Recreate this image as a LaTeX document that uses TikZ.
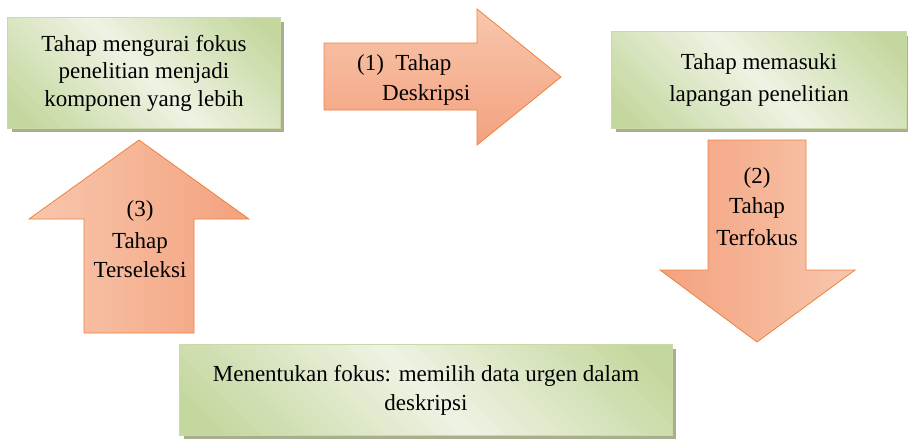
\documentclass[tikz,border=0pt]{standalone}
\usepackage{fontspec}
\setmainfont{Liberation Serif}
\newfontfamily\tmsrm{Liberation Serif}
\definecolor{gdark}{HTML}{C4D79E}
\definecolor{glight}{HTML}{EEF3E3}
\definecolor{gborder}{HTML}{C9DAA6}
\definecolor{shadowc}{HTML}{A8AE8E}
\definecolor{olight}{HTML}{F8C6AC}
\definecolor{odark}{HTML}{F3A27F}
\definecolor{oborder}{HTML}{F0813E}
\begin{document}
\begin{tikzpicture}[x=1pt,y=-1pt,
  boxshape/.style={draw=none, inner sep=0pt},
  boxline/.style={draw=gborder, line width=1pt},
  boxtext/.style={inner sep=0pt, align=center, scale=0.7667, transform shape, font=\tmsrm\fontsize{30}{36}\selectfont},
  blockarrow/.style={draw=oborder, line width=0.8pt, line join=miter},
  lbl/.style={inner sep=0pt, anchor=base, scale=0.7667, transform shape, font=\tmsrm\fontsize{30}{36}\selectfont}]
\useasboundingbox (0,0) rectangle (908,439);
% box frames (named)
\node[boxshape, minimum width=272pt, minimum height=110pt] (b1) at (144,73) {};
\node[boxshape, minimum width=294pt, minimum height=96pt] (b2) at (759,80) {};
\node[boxshape, minimum width=492pt, minimum height=90pt] (b3) at (426,390) {};
% shadows
\foreach \b in {b1,b2,b3}{
  \fill[shadowc] ([shift={(4pt,-4pt)}]\b.south west) rectangle ([shift={(4pt,-4pt)}]\b.north east);
}
% diagonal gradient fills of the boxes
\foreach \b/\L in {b1/135,b2/138,b3/206}{
  \begin{scope}
    \clip (\b.south west) rectangle (\b.north east);
    \begin{scope}[shift={(\b.center)}, rotate=45]
      \foreach \i in {0,...,49}{
        \pgfmathsetmacro\s{-\L+\i*\L/25}
        \pgfmathtruncatemacro\p{min(100,abs(\s+\L/50)/\L*115)}
        \fill[gdark!\p!glight] (\s,-400) rectangle ({\s+\L/25+0.8},400);
      }
    \end{scope}
  \end{scope}
  \draw[boxline] (\b.south west) rectangle (\b.north east);
}
% box texts
\node[boxtext] (t1) at (b1.center) {Tahap mengurai fokus\\penelitian menjadi\\komponen yang lebih};
\node[boxtext, font=\tmsrm\fontsize{30}{41.7}\selectfont] (t2) at (b2.center) {Tahap memasuki\\lapangan penelitian};
\node[boxtext, font=\tmsrm\fontsize{30}{37.8}\selectfont] (t3) at (b3.center) {Menentukan fokus: memilih data urgen dalam\\deskripsi};
% block arrows
\path[save path=\pA] (324,43) -- (477,43) -- (477,9) -- (561,77) -- (477,145) -- (477,110) -- (324,110) -- cycle;
\path[save path=\pB] (708,140) -- (806,140) -- (806,270) -- (855,270) -- (757,342) -- (660,270) -- (708,270) -- cycle;
\path[save path=\pC] (84,333) -- (84,219) -- (29,219) -- (139,140) -- (249,219) -- (194,219) -- (194,333) -- cycle;
\begin{scope}
  \path[use path=\pA, clip];
  \foreach \i in {0,...,33}{
    \pgfmathsetmacro\yy{9+\i*4}
    \pgfmathtruncatemacro\p{\i/33*100}
    \fill[odark!\p!olight] (320,\yy) rectangle (565,\yy+4.8);
  }
\end{scope}
\draw[blockarrow, use path=\pA];
\begin{scope}
  \path[use path=\pB, clip];
  \foreach \i in {0,...,38}{
    \pgfmathsetmacro\xx{660+\i*5}
    \pgfmathtruncatemacro\p{100-\i/38*100}
    \fill[odark!\p!olight] (\xx,135) rectangle (\xx+5.8,345);
  }
\end{scope}
\draw[blockarrow, use path=\pB];
\begin{scope}
  \path[use path=\pC, clip];
  \foreach \i in {0,...,43}{
    \pgfmathsetmacro\xx{29+\i*5}
    \pgfmathtruncatemacro\p{\i/43*100}
    \fill[odark!\p!olight] (\xx,135) rectangle (\xx+5.8,338);
  }
\end{scope}
\draw[blockarrow, use path=\pC];
% arrow labels
\node[lbl, anchor=base west] (a1a) at (357,70) {(1)\hspace{0.5em}Tahap};
\node[lbl, anchor=base west] (a1b) at (382,100) {Deskripsi};
\node[lbl] (a2a) at (757,183) {(2)};
\node[lbl] (a2b) at (757,213) {Tahap};
\node[lbl] (a2c) at (757,245) {Terfokus};
\node[lbl] (a3a) at (140,216) {(3)};
\node[lbl] (a3b) at (140,248) {Tahap};
\node[lbl] (a3c) at (140,277) {Terseleksi};
\end{tikzpicture}
\end{document}
